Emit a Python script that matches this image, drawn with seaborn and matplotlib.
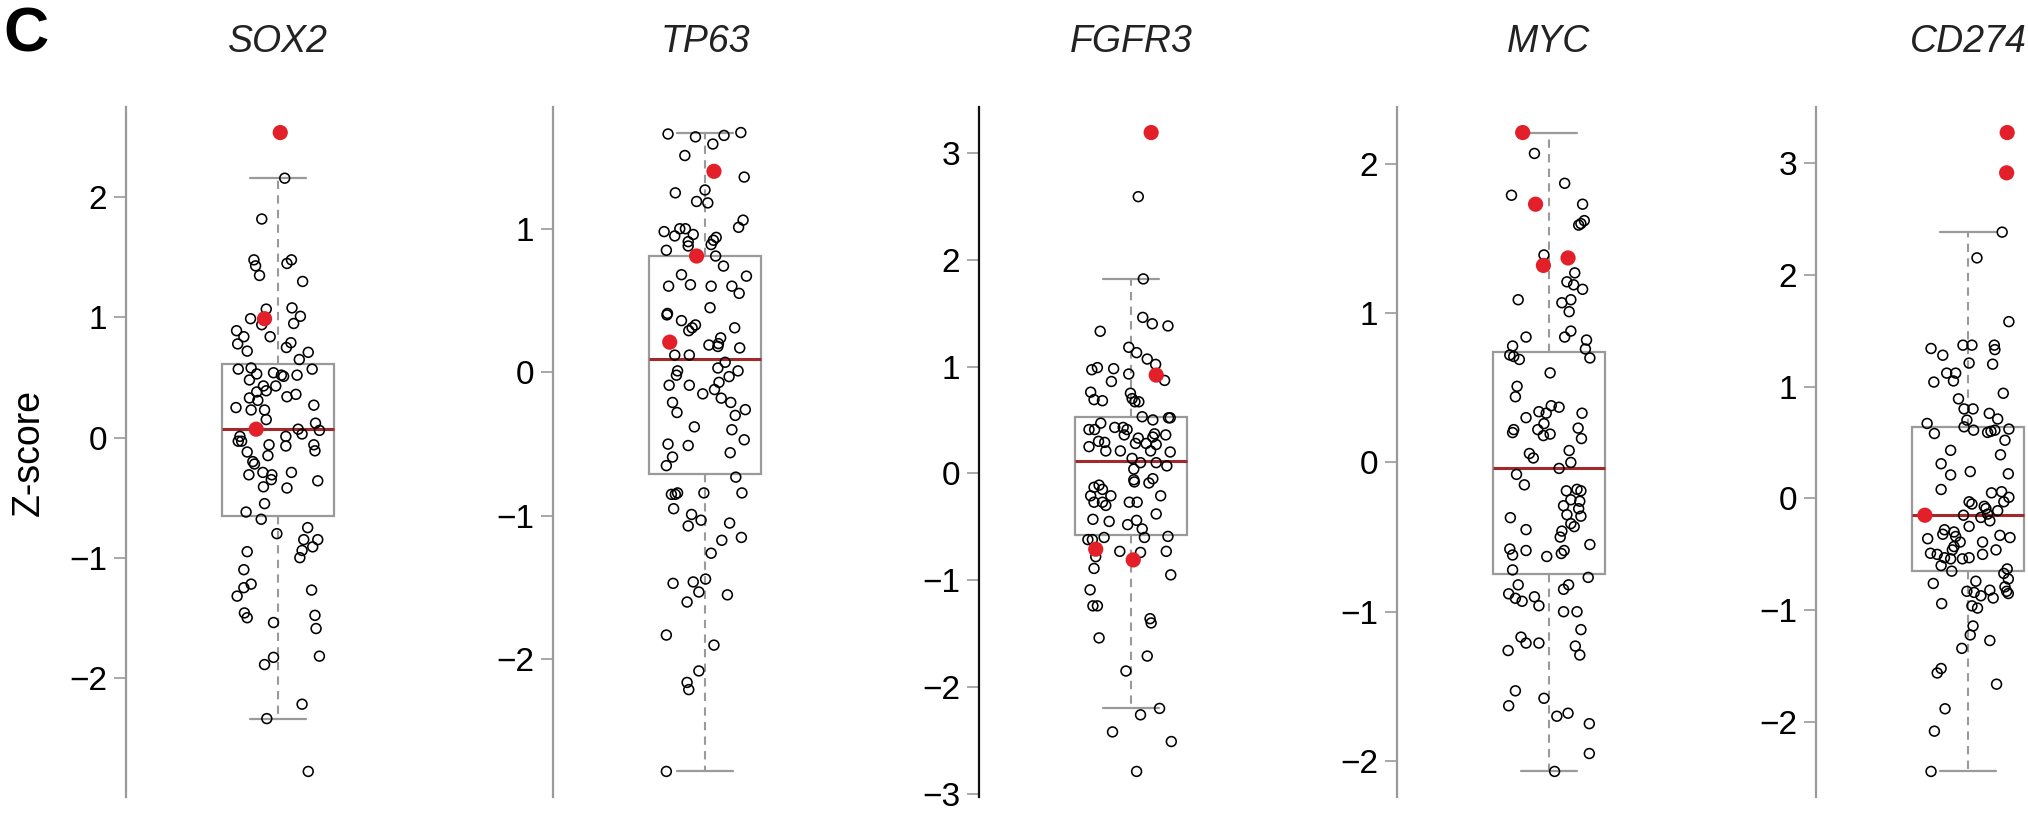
import numpy as np
import pandas as pd
import matplotlib
matplotlib.use("Agg")
import matplotlib.pyplot as plt
import matplotlib.transforms as mtransforms
from matplotlib.ticker import MultipleLocator
import seaborn as sns

# ---------------- data ----------------
genes = ["SOX2", "TP63", "FGFR3", "MYC", "CD274"]

sox2_z = [2.16, 1.82, 1.48, 1.43, 1.35, 1.45, 1.48, 1.30, 1.07, 1.08,
          1.01, 0.99, 0.94, 0.95, 0.89, 0.84, 0.84, 0.78, 0.72, 0.79,
          0.75, 0.71, 0.65, 0.57, 0.58, 0.53, 0.48, 0.54, 0.52, 0.51,
          0.52, 0.57, 0.43, 0.43, 0.38, 0.39, 0.33, 0.31, 0.34, 0.36,
          0.25, 0.23, 0.23, 0.27, 0.15, 0.12, 0.07, 0.03, 0.06, 0.01,
          -0.03, -0.03, 0.01, -0.06, -0.07, -0.06, -0.11, -0.12, -0.15, -0.20,
          -0.22, -0.31, -0.29, -0.31, -0.35, -0.29, -0.41, -0.42, -0.36, -0.55,
          -0.62, -0.68, -0.80, -0.75, -0.85, -0.85, -0.91, -0.94, -1.00, -0.95,
          -1.10, -1.22, -1.25, -1.32, -1.27, -1.46, -1.50, -1.48, -1.54,
          -1.59, -1.82, -1.83, -1.89, -2.22, -2.34, -2.78]
sox2_jit = [0.12, -0.29, -0.43, -0.40, -0.33, 0.16, 0.24, 0.44, -0.21, 0.25,
            0.40, -0.49, -0.29, 0.28, -0.74, -0.61, -0.14, -0.72, -0.55, 0.23,
            0.15, 0.54, 0.38, -0.71, -0.48, -0.38, -0.51, -0.08, 0.06, 0.10,
            0.34, 0.61, -0.26, -0.04, -0.38, -0.21, -0.51, -0.36, 0.16, 0.32,
            -0.75, -0.48, -0.24, 0.64, -0.21, 0.67, 0.36, 0.43, 0.74, -0.68,
            -0.71, -0.65, 0.14, -0.16, 0.14, 0.64, 0.66, -0.55, -0.18, -0.45,
            -0.42, -0.52, -0.27, -0.11, -0.12, 0.24, -0.26, 0.16, 0.71, -0.24,
            -0.57, -0.30, -0.02, 0.53, 0.46, 0.71, 0.62, 0.43, 0.39, -0.55,
            -0.61, -0.48, -0.61, -0.73, 0.60, -0.60, -0.55, 0.66, -0.08,
            0.68, 0.74, -0.08, -0.24, 0.43, -0.20, 0.54]
sox2_red_z = [2.54, 0.99, 0.07]
sox2_red_jit = [0.04, -0.24, -0.39]

tp63_z = [1.66, 1.64, 1.59, 1.65, 1.67, 1.51, 1.36, 1.25, 1.27, 1.19,
          1.18, 1.06, 1.01, 0.98, 0.95, 1.00, 1.00, 0.96, 0.91, 0.88,
          0.89, 0.92, 0.94, 0.85, 0.81, 0.74, 0.68, 0.67, 0.60, 0.61,
          0.60, 0.60, 0.55, 0.45, 0.41, 0.40, 0.36, 0.33, 0.31, 0.29,
          0.31, 0.24, 0.19, 0.18, 0.20, 0.17, 0.12, 0.12, 0.07, 0.03,
          0.01, 0.01, -0.02, -0.03, -0.09, -0.09, -0.07, -0.15, -0.12, -0.18,
          -0.21, -0.21, -0.28, -0.26, -0.30, -0.38, -0.40, -0.47, -0.50, -0.51,
          -0.59, -0.56, -0.65, -0.73, -0.85, -0.85, -0.84, -0.84, -0.84, -0.95,
          -0.99, -1.03, -1.07, -1.05, -1.15, -1.17, -1.26, -1.47, -1.46, -1.44,
          -1.53, -1.55, -1.60, -1.83, -1.90, -2.08, -2.16, -2.21, -2.78]
tp63_jit = [-0.66, -0.17, 0.14, 0.34, 0.64, -0.36, 0.70, -0.53, 0.00, -0.15,
            0.05, 0.68, 0.60, -0.73, -0.54, -0.45, -0.35, -0.21, -0.30, -0.30,
            0.11, 0.15, 0.20, -0.69, 0.19, 0.33, -0.42, 0.74, -0.65, -0.26,
            0.11, 0.48, 0.61, 0.09, -0.67, -0.68, -0.42, -0.17, -0.23, -0.29,
            0.53, 0.28, 0.07, 0.23, 0.24, 0.62, -0.54, -0.28, 0.36, 0.23,
            0.59, -0.49, -0.51, 0.43, -0.64, -0.28, 0.25, -0.04, 0.17, 0.29,
            -0.58, 0.46, -0.50, 0.72, 0.54, -0.19, 0.48, 0.70, -0.66, -0.30,
            -0.58, 0.45, -0.69, 0.55, -0.60, -0.53, -0.49, -0.02, 0.66, -0.56,
            -0.24, -0.07, -0.30, 0.44, 0.65, 0.30, 0.11, -0.57, -0.21, 0.01,
            -0.11, 0.40, -0.32, -0.69, 0.16, -0.11, -0.32, -0.29, -0.69]
tp63_red_z = [1.40, 0.81, 0.21]
tp63_red_jit = [0.16, -0.15, -0.63]

fgfr3_z = [2.59, 1.82, 1.46, 1.40, 1.38, 1.33, 1.18, 1.13, 1.07, 1.02,
           0.87, 0.97, 0.99, 0.98, 0.93, 0.86, 0.76, 0.75, 0.69, 0.68,
           0.70, 0.67, 0.67, 0.53, 0.50, 0.52, 0.52, 0.47, 0.41, 0.41,
           0.43, 0.43, 0.41, 0.36, 0.37, 0.36, 0.34, 0.30, 0.29, 0.28,
           0.28, 0.27, 0.25, 0.21, 0.21, 0.21, 0.20, 0.14, 0.10, 0.10,
           0.07, 0.04, -0.06, -0.05, -0.09, -0.11, -0.13, -0.15, -0.21, -0.21,
           -0.21, -0.27, -0.27, -0.27, -0.27, -0.38, -0.43, -0.45, -0.44, -0.48,
           -0.52, -0.59, -0.60, -0.62, -0.62, -0.73, -0.74, -0.73, -0.78, -0.89,
           -0.95, -1.09, -1.24, -1.24, -1.36, -1.40, -1.54, -1.71, -1.85, -2.20,
           -2.26, -2.42, -2.51, -2.79, -0.08, 0.33, -0.60, -0.30]
fgfr3_jit = [0.13, 0.22, 0.21, 0.38, 0.66, -0.55, -0.04, 0.10, 0.29, 0.44,
             0.60, -0.70, -0.60, -0.31, -0.04, -0.35, -0.72, -0.01, -0.66, -0.51,
             0.02, 0.07, 0.14, 0.20, 0.39, 0.67, 0.70, -0.54, -0.75, -0.65,
             -0.29, -0.14, -0.07, -0.12, 0.42, 0.62, 0.39, -0.58, -0.47, 0.08,
             0.27, 0.45, -0.75, -0.45, -0.19, 0.35, 0.70, 0.02, 0.17, 0.45,
             0.64, 0.05, 0.05, 0.39, 0.32, -0.57, -0.66, -0.51, -0.72, -0.36,
             0.53, -0.66, -0.51, -0.03, 0.11, 0.45, -0.68, -0.39, 0.10, -0.06,
             0.20, 0.66, -0.48, -0.77, -0.69, -0.20, 0.17, 0.63, -0.63, -0.66,
             0.71, -0.73, -0.68, -0.60, 0.34, 0.36, -0.57, 0.29, -0.09, 0.51,
             0.17, -0.33, 0.72, 0.10, 0.06, 0.13, 0.24, -0.45]
fgfr3_red_z = [3.19, 0.92, -0.71, -0.81]
fgfr3_red_jit = [0.36, 0.45, -0.63, 0.04]

myc_z = [2.07, 1.87, 1.79, 1.73, 1.59, 1.60, 1.62, 1.39, 1.27, 1.21,
         1.19, 1.16, 1.09, 1.07, 1.09, 1.01, 0.84, 0.84, 0.88, 0.82,
         0.78, 0.72, 0.71, 0.69, 0.76, 0.70, 0.60, 0.51, 0.44, 0.38,
         0.37, 0.34, 0.33, 0.33, 0.30, 0.26, 0.22, 0.20, 0.22, 0.19,
         0.18, 0.23, 0.16, 0.06, 0.03, 0.08, 0.00, -0.04, -0.08, -0.15,
         -0.19, -0.18, -0.19, -0.25, -0.26, -0.29, -0.31, -0.35, -0.36, -0.37,
         -0.41, -0.43, -0.45, -0.46, -0.50, -0.55, -0.58, -0.59, -0.59, -0.62,
         -0.63, -0.61, -0.72, -0.77, -0.82, -0.82, -0.85, -0.88, -0.91, -0.93,
         -0.90, -0.96, -1.00, -1.00, -1.12, -1.17, -1.21, -1.21, -1.23, -1.29,
         -1.26, -1.53, -1.63, -1.58, -1.70, -1.68, -1.75, -1.95, -2.07]
myc_jit = [-0.26, 0.28, -0.67, 0.60, 0.53, 0.57, 0.63, -0.09, 0.46, 0.32,
           0.44, 0.60, -0.55, 0.23, 0.39, 0.36, -0.41, 0.28, 0.39, 0.67,
           -0.65, -0.70, -0.63, -0.53, 0.65, 0.73, 0.02, -0.57, -0.60, 0.04,
           0.18, -0.18, -0.05, 0.59, -0.41, -0.09, -0.63, -0.65, -0.20, 0.02,
           -0.10, 0.52, 0.58, -0.35, -0.28, 0.36, 0.39, 0.18, -0.58, -0.44,
           0.31, 0.50, 0.57, 0.39, 0.55, 0.26, 0.53, 0.32, 0.57, -0.69,
           0.39, 0.45, -0.41, 0.23, 0.20, 0.73, -0.70, -0.41, 0.27, -0.65,
           -0.04, 0.22, -0.65, 0.70, -0.55, 0.35, 0.26, -0.72, -0.60, -0.48,
           -0.26, -0.18, 0.26, 0.50, 0.57, -0.50, -0.41, -0.18, 0.47, 0.55,
           -0.73, -0.60, -0.72, -0.09, 0.14, 0.34, 0.72, 0.72, 0.10]
myc_red_z = [2.21, 1.73, 1.32, 1.37]
myc_red_jit = [-0.47, -0.24, -0.10, 0.34]

cd274_z = [2.38, 2.15, 1.58, 1.34, 1.28, 1.37, 1.37, 1.37, 1.33, 1.21,
           1.20, 1.12, 1.12, 1.04, 1.05, 0.94, 0.89, 0.80, 0.80, 0.76,
           0.71, 0.70, 0.67, 0.64, 0.61, 0.58, 0.59, 0.60, 0.61, 0.62,
           0.52, 0.43, 0.39, 0.31, 0.21, 0.24, 0.22, 0.08, 0.05, 0.06,
           0.01, -0.03, -0.05, -0.07, -0.09, -0.03, -0.11, -0.15, -0.17, -0.14,
           -0.20, -0.25, -0.28, -0.30, -0.32, -0.34, -0.33, -0.35, -0.36, -0.39,
           -0.39, -0.43, -0.46, -0.46, -0.49, -0.50, -0.53, -0.54, -0.54, -0.53,
           -0.50, -0.60, -0.65, -0.63, -0.67, -0.72, -0.74, -0.76, -0.79, -0.83,
           -0.85, -0.83, -0.84, -0.82, -0.87, -0.89, -0.94, -0.96, -0.98, -1.14,
           -1.22, -1.27, -1.34, -1.52, -1.56, -1.66, -1.88, -2.08, -2.44]
cd274_jit = [0.61, 0.16, 0.73, -0.66, -0.45, -0.09, 0.07, 0.47, 0.48, 0.02,
             0.44, -0.38, -0.22, -0.61, -0.26, 0.63, -0.17, -0.07, 0.09, 0.38,
             0.53, -0.02, -0.73, -0.07, 0.10, -0.60, 0.35, 0.41, 0.48, 0.73,
             0.66, -0.31, 0.58, -0.48, -0.31, 0.04, 0.72, -0.48, 0.42, 0.60,
             0.73, 0.02, 0.07, 0.29, 0.32, 0.64, 0.53, -0.08, 0.23, 0.35,
             0.39, 0.02, -0.42, -0.25, -0.45, -0.22, 0.57, 0.75, -0.72, -0.14,
             0.26, -0.25, -0.28, 0.50, -0.67, -0.55, -0.42, -0.31, -0.10, 0.02,
             0.26, -0.48, -0.29, 0.70, 0.64, 0.72, 0.14, -0.62, 0.66, 0.69,
             0.72, -0.02, 0.11, 0.39, 0.23, 0.45, -0.47, 0.07, 0.17, 0.09,
             0.04, 0.39, -0.11, -0.48, -0.55, 0.51, -0.41, -0.60, -0.66]
cd274_red_z = [3.27, 2.91, -0.15]
cd274_red_jit = [0.70, 0.69, -0.77]

open_z = [sox2_z, tp63_z, fgfr3_z, myc_z, cd274_z]
open_jit = [sox2_jit, tp63_jit, fgfr3_jit, myc_jit, cd274_jit]
red_z = [sox2_red_z, tp63_red_z, fgfr3_red_z, myc_red_z, cd274_red_z]
red_jit = [sox2_red_jit, tp63_red_jit, fgfr3_red_jit, myc_red_jit, cd274_red_jit]

# ---------------- style / layout ----------------
sns.set_style("white")
plt.rcParams["font.family"] = ["Liberation Sans", "DejaVu Sans"]

W, H = 2028, 827
fig = plt.figure(figsize=(W / 100, H / 100), dpi=100)

spine_px = [126, 553, 979, 1397, 1816]       # left spine position of each panel
spine_colors = ["#9a9a9a", "#9a9a9a", "#111111", "#9a9a9a", "#9a9a9a"]
px_per_unit = 140.0                          # box width 0.8 -> 112 px
left_units, right_units = 152 / px_per_unit, 60 / px_per_unit
ax_top_px, ax_bot_px = 107, 797
box_half = 0.4

grey = "#9a9a9a"
med_col = "#a3282c"
red_col = "#e3202a"

for i, g in enumerate(genes):
    left = spine_px[i] / W
    width = (left_units + right_units) * px_per_unit / W
    bottom = 1 - ax_bot_px / H
    height = (ax_bot_px - ax_top_px) / H
    ax = fig.add_axes([left, bottom, width, height])
    ax.set_facecolor("none")

    allz = np.array(open_z[i] + red_z[i])
    df = pd.DataFrame({"gene": g, "z": allz})
    sns.boxplot(data=df, x="gene", y="z", ax=ax, width=0.8, color="white",
                linecolor=grey, linewidth=1.6, showfliers=False,
                whiskerprops=dict(linestyle=(0, (4, 3)), color=grey, linewidth=1.5),
                capprops=dict(color=grey, linewidth=1.6),
                medianprops=dict(color=med_col, linewidth=2.2))

    sns.scatterplot(x=np.array(open_jit[i]) * box_half, y=open_z[i], ax=ax,
                    marker="o", s=50, facecolors="none", edgecolor="black",
                    linewidth=1.15, zorder=3)
    sns.scatterplot(x=np.array(red_jit[i]) * box_half, y=red_z[i], ax=ax,
                    marker="o", s=120, color=red_col, edgecolor="none",
                    linewidth=0, zorder=4)

    lo, hi = allz.min(), allz.max()
    r = hi - lo
    ax.set_ylim(lo - 0.04 * r, hi + 0.04 * r)
    ax.set_xlim(-left_units, right_units)
    ax.set_xticks([])
    ax.set_xlabel("")
    ax.set_ylabel("")
    ax.yaxis.set_major_locator(MultipleLocator(1))
    for s in ["top", "right", "bottom"]:
        ax.spines[s].set_visible(False)
    ax.spines["left"].set_color(spine_colors[i])
    ax.spines["left"].set_linewidth(1.6)
    ax.tick_params(axis="y", direction="out", length=8.6, width=1.2,
                   color=grey, labelsize=24, pad=5, labelcolor="black", left=True)

    trans = mtransforms.blended_transform_factory(ax.transData, fig.transFigure)
    ax.text(0, 1 - 52 / H, g, transform=trans, ha="center", va="baseline",
            fontsize=27, fontstyle="italic", color="#222222")

fig.text(3 / W, 1 - 52 / H, "C", fontsize=45, fontweight="bold",
         ha="left", va="baseline", color="black")
fig.text(29 / W, 1 - 452 / H, "Z-score", rotation=90, fontsize=27,
         ha="center", va="center", color="black")

fig.savefig("out.png", dpi=100)
